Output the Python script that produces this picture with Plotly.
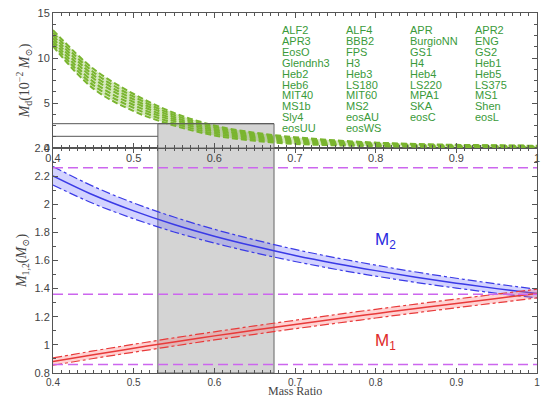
import plotly.graph_objects as go

# ---------------- data ----------------
q = [0.40, 0.45, 0.50, 0.55, 0.60, 0.65, 0.70, 0.75, 0.80, 0.85, 0.90, 0.95, 1.00]

# disk mass curves (10^-2 Msun), representative EOS tracks
md_curves = [
    [13.1, 8.80, 6.00, 3.90, 2.50, 1.70, 1.20, 0.85, 0.60, 0.45, 0.35, 0.30, 0.25],
    [12.8, 8.45, 5.70, 3.68, 2.33, 1.56, 1.08, 0.76, 0.54, 0.40, 0.31, 0.27, 0.22],
    [12.5, 8.10, 5.40, 3.45, 2.15, 1.42, 0.96, 0.67, 0.47, 0.35, 0.27, 0.23, 0.19],
    [12.2, 7.75, 5.10, 3.22, 1.98, 1.28, 0.84, 0.58, 0.40, 0.30, 0.22, 0.18, 0.15],
    [11.9, 7.35, 4.78, 3.00, 1.80, 1.14, 0.72, 0.49, 0.33, 0.24, 0.17, 0.14, 0.11],
    [11.6, 6.98, 4.45, 2.75, 1.60, 0.97, 0.58, 0.40, 0.26, 0.19, 0.13, 0.10, 0.08],
    [11.3, 6.60, 4.10, 2.50, 1.40, 0.80, 0.45, 0.30, 0.20, 0.15, 0.10, 0.08, 0.05],
]

m2 = [2.202, 2.066, 1.953, 1.856, 1.773, 1.701, 1.636, 1.579, 1.528, 1.481, 1.439, 1.400, 1.365]
m2_up = [2.268, 2.127, 2.009, 1.909, 1.822, 1.747, 1.679, 1.620, 1.567, 1.518, 1.474, 1.433, 1.396]
m2_lo = [2.136, 2.005, 1.897, 1.803, 1.724, 1.655, 1.593, 1.538, 1.489, 1.444, 1.404, 1.367, 1.334]

m1 = [0.881, 0.930, 0.976, 1.021, 1.064, 1.105, 1.145, 1.184, 1.222, 1.259, 1.295, 1.330, 1.365]
m1_up = [0.907, 0.957, 1.004, 1.050, 1.093, 1.135, 1.175, 1.215, 1.253, 1.290, 1.326, 1.361, 1.396]
m1_lo = [0.855, 0.903, 0.948, 0.992, 1.035, 1.075, 1.115, 1.153, 1.191, 1.228, 1.264, 1.299, 1.334]

mass_limits = [2.26, 1.36, 0.86]

q_region = [0.53, 0.674]
md_levels = [2.7, 1.3]

eos_columns = [
    ["ALF2", "APR3", "EosO", "Glendnh3", "Heb2", "Heb6", "MIT40", "MS1b", "Sly4", "eosUU"],
    ["ALF4", "BBB2", "FPS", "H3", "Heb3", "LS180", "MIT60", "MS2", "eosAU", "eosWS"],
    ["APR", "BurgioNN", "GS1", "H4", "Heb4", "LS220", "MPA1", "SKA", "eosC"],
    ["APR2", "ENG", "GS2", "Heb1", "Heb5", "LS375", "MS1", "Shen", "eosL"],
]
eos_col_x = [0.6809, 0.7602, 0.8401, 0.9206]

x_ticks = [0.4, 0.5, 0.6, 0.7, 0.8, 0.9, 1.0]
x_ticklabels = ["0.4", "0.5", "0.6", "0.7", "0.8", "0.9", "1"]
y_ticks_low = [0.8, 1.0, 1.2, 1.4, 1.6, 1.8, 2.0, 2.2, 2.4]
y_ticklabels_low = ["0.8", "1", "1.2", "1.4", "1.6", "1.8", "2", "2.2", "2.4"]
y_ticks_top = [0, 5, 10, 15]

# ---------------- figure ----------------
GREEN = "#7ab52f"
fig = go.Figure()

# filled envelope of the disk-mass tracks
fig.add_trace(go.Scatter(x=q, y=md_curves[-1], mode="lines", xaxis="x2", yaxis="y2",
                         line=dict(color="rgba(0,0,0,0)", width=0, shape="spline"),
                         showlegend=False, hoverinfo="skip"))
fig.add_trace(go.Scatter(x=q, y=md_curves[0], mode="lines", xaxis="x2", yaxis="y2",
                         fill="tonexty", fillcolor="rgba(122,181,47,0.30)",
                         line=dict(color="rgba(0,0,0,0)", width=0, shape="spline"),
                         showlegend=False, hoverinfo="skip"))
for c in md_curves:
    fig.add_trace(go.Scatter(x=q, y=c, mode="lines", xaxis="x2", yaxis="y2",
                             line=dict(color=GREEN, width=2, dash="6px,3px", shape="spline"),
                             showlegend=False, hoverinfo="skip"))

def band(up, lo, center, line_col, fill_col):
    fig.add_trace(go.Scatter(x=q, y=lo, mode="lines",
                             line=dict(color=line_col, width=1.2, dash="dashdot", shape="spline"),
                             showlegend=False, hoverinfo="skip"))
    fig.add_trace(go.Scatter(x=q, y=up, mode="lines", fill="tonexty", fillcolor=fill_col,
                             line=dict(color=line_col, width=1.2, dash="dashdot", shape="spline"),
                             showlegend=False, hoverinfo="skip"))
    fig.add_trace(go.Scatter(x=q, y=center, mode="lines",
                             line=dict(color=line_col, width=1.5, shape="spline"),
                             showlegend=False, hoverinfo="skip"))

band(m2_up, m2_lo, m2, "#3a3ae6", "rgba(110,110,255,0.30)")
band(m1_up, m1_lo, m1, "#e83a3a", "rgba(255,110,110,0.30)")

shapes = []
for yv in mass_limits:
    shapes.append(dict(type="line", xref="x", yref="y", x0=0.4, x1=1.0, y0=yv, y1=yv,
                       line=dict(color="#cc66ee", width=1.5, dash="10px,5px")))
# gray region in lower panel
shapes.append(dict(type="rect", xref="x", yref="y", x0=q_region[0], x1=q_region[1], y0=0.8, y1=2.4,
                   fillcolor="#d4d4d4", line=dict(color="#666666", width=1), layer="below"))
# gray region in top panel
shapes.append(dict(type="rect", xref="x2", yref="y2", x0=q_region[0], x1=q_region[1], y0=0, y1=md_levels[0],
                   fillcolor="#d4d4d4", line=dict(color="#666666", width=1), layer="below"))
shapes.append(dict(type="line", xref="x2", yref="y2", x0=0.4, x1=q_region[1], y0=md_levels[0], y1=md_levels[0],
                   line=dict(color="#555555", width=1)))
shapes.append(dict(type="line", xref="x2", yref="y2", x0=0.4, x1=q_region[0], y0=md_levels[1], y1=md_levels[1],
                   line=dict(color="#555555", width=1)))

annotations = []
for ci, col in enumerate(eos_columns):
    for ri, name in enumerate(col):
        annotations.append(dict(x=eos_col_x[ci], y=13.08 - ri * 1.206, xref="x2", yref="y2",
                                text=name, showarrow=False, xanchor="left", yanchor="middle",
                                font=dict(family="Liberation Sans, Arial", size=11, color="#3a9a3a")))
annotations.append(dict(x=0.812, y=1.74, xref="x", yref="y", text="M<sub>2</sub>", showarrow=False,
                        font=dict(family="Liberation Sans, Arial", size=17, color="#2a2ae0")))
annotations.append(dict(x=0.812, y=1.02, xref="x", yref="y", text="M<sub>1</sub>", showarrow=False,
                        font=dict(family="Liberation Sans, Arial", size=17, color="#e02a2a")))
# x-axis title placed just under the tick labels
annotations.append(dict(x=0.5, y=-0.051, xref="paper", yref="paper", text="Mass Ratio", showarrow=False,
                        xanchor="center", yanchor="middle",
                        font=dict(family="Liberation Serif, DejaVu Serif", size=12, color="#444444")))

axis_common = dict(showline=True, linecolor="#555555", linewidth=1, mirror="ticks",
                   ticks="inside", ticklen=5, tickcolor="#555555", showgrid=False, zeroline=False,
                   automargin=False,
                   tickfont=dict(family="Liberation Sans, Arial", size=11, color="#444444"))

fig.update_layout(
    width=545, height=399,
    margin=dict(l=53, r=8, t=13, b=26),
    paper_bgcolor="white", plot_bgcolor="white",
    shapes=shapes, annotations=annotations,
    xaxis=dict(domain=[0, 1], range=[0.4, 1.0], anchor="y", tickvals=x_ticks, ticktext=x_ticklabels,
               minor=dict(dtick=0.01, ticks="inside", ticklen=3, tickcolor="#555555"),
               **{**axis_common, "tickfont": dict(family="Liberation Sans, Arial", size=10, color="#444444")}),
    yaxis=dict(domain=[0, 0.625], range=[0.8, 2.4], anchor="x", tickvals=y_ticks_low, ticktext=y_ticklabels_low,
               minor=dict(dtick=0.1, ticks="inside", ticklen=3, tickcolor="#555555"),
               title=dict(text="<i>M</i><sub>1,2</sub>(<i>M</i><sub>⊙</sub>)", standoff=4,
                          font=dict(family="Liberation Serif, DejaVu Serif", size=14, color="#444444")),
               **axis_common),
    xaxis2=dict(domain=[0, 1], range=[0.4, 1.0], anchor="y2", tickvals=x_ticks, ticktext=x_ticklabels,
                minor=dict(dtick=0.01, ticks="inside", ticklen=3, tickcolor="#555555"),
                **axis_common),
    yaxis2=dict(domain=[0.625, 1], range=[0, 15], anchor="x2", tickvals=y_ticks_top,
                minor=dict(dtick=1.25, ticks="inside", ticklen=3, tickcolor="#555555"),
                title=dict(text="<i>M</i><sub>d</sub>(10<sup>−2</sup> <i>M</i><sub>⊙</sub>)", standoff=4,
                           font=dict(family="Liberation Serif, DejaVu Serif", size=14, color="#444444")),
                **axis_common),
)

fig.write_html("out.html")
